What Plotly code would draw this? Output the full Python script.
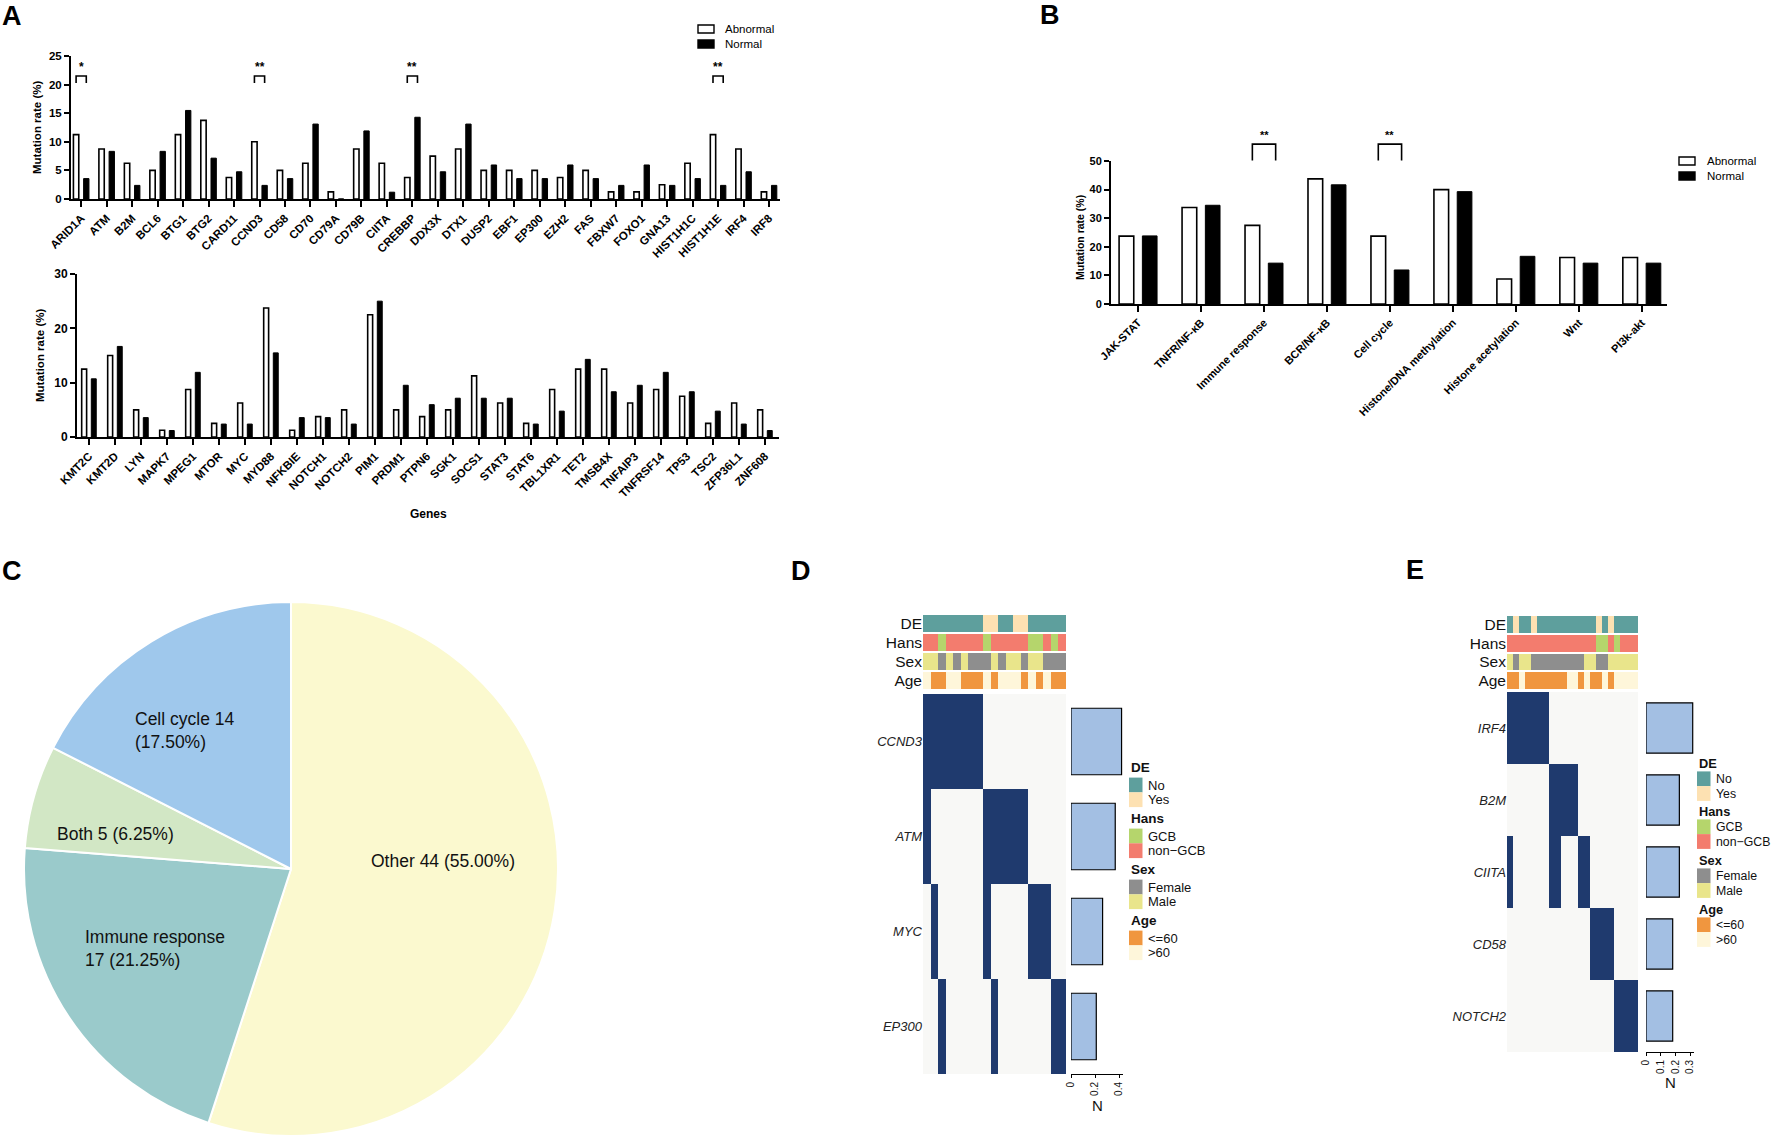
import plotly.graph_objects as go

W, H = 1772, 1136
FONT = "Liberation Sans, Arial, Helvetica, sans-serif"


def px_x(v):
    return v / W


def px_y(v):
    return 1 - v / H


# ---------------- Panel A (top) ----------------
genes_a1 = ["ARID1A", "ATM", "B2M", "BCL6", "BTG1", "BTG2", "CARD11", "CCND3", "CD58", "CD70",
            "CD79A", "CD79B", "CIITA", "CREBBP", "DDX3X", "DTX1", "DUSP2", "EBF1", "EP300", "EZH2",
            "FAS", "FBXW7", "FOXO1", "GNA13", "HIST1H1C", "HIST1H1E", "IRF4", "IRF8"]
abnormal_a1 = [11.25, 8.75, 6.25, 5.0, 11.25, 13.75, 3.75, 10.0, 5.0, 6.25, 1.25, 8.75, 6.25, 3.75,
               7.5, 8.75, 5.0, 5.0, 5.0, 3.75, 5.0, 1.25, 1.25, 2.5, 6.25, 11.25, 8.75, 1.25]
normal_a1 = [3.57, 8.33, 2.38, 8.33, 15.48, 7.14, 4.76, 2.38, 3.57, 13.1, 0, 11.9, 1.19, 14.29,
             4.76, 13.1, 5.95, 3.57, 3.57, 5.95, 3.57, 2.38, 5.95, 2.38, 3.57, 2.38, 4.76, 2.38]
sig_a1_genes = ["ARID1A", "CCND3", "CREBBP", "HIST1H1E"]
sig_a1_marks = ["*", "**", "**", "**"]

# ---------------- Panel A (bottom) ----------------
genes_a2 = ["KMT2C", "KMT2D", "LYN", "MAPK7", "MPEG1", "MTOR", "MYC", "MYD88", "NFKBIE", "NOTCH1",
            "NOTCH2", "PIM1", "PRDM1", "PTPN6", "SGK1", "SOCS1", "STAT3", "STAT6", "TBL1XR1", "TET2",
            "TMSB4X", "TNFAIP3", "TNFRSF14", "TP53", "TSC2", "ZFP36L1", "ZNF608"]
abnormal_a2 = [12.5, 15.0, 5.0, 1.25, 8.75, 2.5, 6.25, 23.75, 1.25, 3.75, 5.0, 22.5, 5.0, 3.75,
               5.0, 11.25, 6.25, 2.5, 8.75, 12.5, 12.5, 6.25, 8.75, 7.5, 2.5, 6.25, 5.0]
normal_a2 = [10.71, 16.67, 3.57, 1.19, 11.9, 2.38, 2.38, 15.48, 3.57, 3.57, 2.38, 25.0, 9.52, 5.95,
             7.14, 7.14, 7.14, 2.38, 4.76, 14.29, 8.33, 9.52, 11.9, 8.33, 4.76, 2.38, 1.19]

# ---------------- Panel B ----------------
pathways = ["JAK-STAT", "TNFR/NF-κB", "Immune response", "BCR/NF-κB", "Cell cycle",
            "Histone/DNA methylation", "Histone acetylation", "Wnt", "PI3k-akt"]
abnormal_b = [23.75, 33.75, 27.5, 43.75, 23.75, 40.0, 8.75, 16.25, 16.25]
normal_b = [23.81, 34.52, 14.29, 41.67, 11.9, 39.29, 16.67, 14.29, 14.29]
sig_b_paths = ["Immune response", "Cell cycle"]
sig_b_marks = ["**", "**"]

# ---------------- Panel C ----------------
pie_labels = ["Other", "Immune response", "Both", "Cell cycle"]
pie_values = [44, 17, 5, 14]
pie_colors = ["#FBF9CF", "#9ACACB", "#D2E7C5", "#9FC8EC"]

# ---------------- Panel D ----------------
d_genes = ["CCND3", "ATM", "MYC", "EP300"]
d_ccnd3 = [1, 1, 1, 1, 1, 1, 1, 1, 0, 0, 0, 0, 0, 0, 0, 0, 0, 0, 0]
d_atm = [1, 0, 0, 0, 0, 0, 0, 0, 1, 1, 1, 1, 1, 1, 0, 0, 0, 0, 0]
d_myc = [0, 1, 0, 0, 0, 0, 0, 0, 1, 0, 0, 0, 0, 0, 1, 1, 1, 0, 0]
d_ep300 = [0, 0, 1, 0, 0, 0, 0, 0, 0, 1, 0, 0, 0, 0, 0, 0, 0, 1, 1]
d_de = ["No", "No", "No", "No", "No", "No", "No", "No", "Yes", "Yes", "No", "No", "Yes", "Yes",
        "No", "No", "No", "No", "No"]
d_hans = ["non-GCB", "non-GCB", "GCB", "non-GCB", "non-GCB", "non-GCB", "non-GCB", "non-GCB", "GCB",
          "non-GCB", "non-GCB", "non-GCB", "non-GCB", "non-GCB", "GCB", "GCB", "non-GCB", "GCB", "non-GCB"]
d_sex = ["Male", "Male", "Female", "Male", "Female", "Male", "Female", "Female", "Female", "Male",
         "Female", "Male", "Male", "Female", "Male", "Male", "Female", "Female", "Female"]
d_age = [">60", "<=60", "<=60", ">60", ">60", "<=60", "<=60", "<=60", ">60", "<=60", ">60", ">60",
         ">60", "<=60", ">60", "<=60", ">60", "<=60", "<=60"]

# ---------------- Panel E ----------------
e_genes = ["IRF4", "B2M", "CIITA", "CD58", "NOTCH2"]
e_irf4 = [1, 1, 1, 1, 1, 1, 1, 0, 0, 0, 0, 0, 0, 0, 0, 0, 0, 0, 0, 0, 0, 0]
e_b2m = [0, 0, 0, 0, 0, 0, 0, 1, 1, 1, 1, 1, 0, 0, 0, 0, 0, 0, 0, 0, 0, 0]
e_ciita = [1, 0, 0, 0, 0, 0, 0, 1, 1, 0, 0, 0, 1, 1, 0, 0, 0, 0, 0, 0, 0, 0]
e_cd58 = [0, 0, 0, 0, 0, 0, 0, 0, 0, 0, 0, 0, 0, 0, 1, 1, 1, 1, 0, 0, 0, 0]
e_notch2 = [0, 0, 0, 0, 0, 0, 0, 0, 0, 0, 0, 0, 0, 0, 0, 0, 0, 0, 1, 1, 1, 1]
e_de = ["No", "Yes", "No", "No", "Yes", "No", "No", "No", "No", "No", "No", "No", "No", "No", "No",
        "Yes", "No", "Yes", "No", "No", "No", "No"]
e_hans = ["non-GCB", "non-GCB", "non-GCB", "non-GCB", "non-GCB", "non-GCB", "non-GCB", "non-GCB",
          "non-GCB", "non-GCB", "non-GCB", "non-GCB", "non-GCB", "non-GCB", "non-GCB", "GCB", "GCB",
          "non-GCB", "GCB", "non-GCB", "non-GCB", "non-GCB"]
e_sex = ["Male", "Female", "Male", "Male", "Female", "Female", "Female", "Female", "Female", "Female",
         "Female", "Female", "Female", "Male", "Male", "Female", "Female", "Male", "Male", "Male",
         "Male", "Male"]
e_age = ["<=60", "<=60", ">60", "<=60", "<=60", "<=60", "<=60", "<=60", "<=60", "<=60", ">60", ">60",
         "<=60", ">60", "<=60", "<=60", ">60", "<=60", ">60", ">60", ">60", ">60"]

ann_rows = ["DE", "Hans", "Sex", "Age"]
ann_keys = ["No", "Yes", "GCB", "non-GCB", "Female", "Male", "<=60", ">60"]
ann_colors = ["#5E9F9D", "#FDE1B2", "#B5D56C", "#F37C6E", "#8E8E8E", "#E9E58B", "#F0963F", "#FEF6DA"]
legend_groups = [("DE", ["No", "Yes"]), ("Hans", ["GCB", "non-GCB"]),
                 ("Sex", ["Female", "Male"]), ("Age", ["<=60", ">60"])]
MUT_COLOR = "#1F3A6E"
EMPTY_COLOR = "#F8F8F6"
NBAR_COLOR = "#A3BFE3"

fig = go.Figure()
shapes = []
annotations = []


def bar_axes(xdom, ydom, xr, yr, dtick, xname, yname, xfs, yfs):
    xa = dict(domain=xdom, anchor=yname, type="category", range=xr, showline=True, linecolor="black",
              linewidth=2, ticks="outside", ticklen=6, tickwidth=2, tickcolor="black", tickangle=-45,
              showgrid=False, zeroline=False, automargin=False,
              tickfont=dict(family=FONT, size=xfs, color="black", weight="bold"))
    ya = dict(domain=ydom, anchor=xname, range=yr, dtick=dtick, showline=True, linecolor="black",
              linewidth=2, ticks="outside", ticklen=5, tickwidth=2, tickcolor="black", showgrid=False,
              zeroline=False, automargin=False,
              tickfont=dict(family=FONT, size=yfs, color="black", weight="bold"))
    return xa, ya


def add_pair(cats, abn, nor, bw, off, xa, ya):
    fig.add_trace(go.Bar(x=cats, y=abn, width=bw, offset=-off - bw / 2, name="Abnormal",
                         marker=dict(color="white", line=dict(color="black", width=1.6)),
                         xaxis=xa, yaxis=ya, showlegend=False))
    fig.add_trace(go.Bar(x=cats, y=nor, width=bw, offset=off - bw / 2, name="Normal",
                         marker=dict(color="black", line=dict(color="black", width=1.0)),
                         xaxis=xa, yaxis=ya, showlegend=False))


def to_paper(v, dom, rng):
    return dom[0] + (v - rng[0]) / (rng[1] - rng[0]) * (dom[1] - dom[0])


def add_brackets(cats, sig, marks, off, xdom, xr, ydom, yr, y_leg, y_top, y_star, fs):
    for g, m in zip(sig, marks):
        i = cats.index(g)
        x0 = to_paper(i - off, xdom, xr)
        x1 = to_paper(i + off, xdom, xr)
        yl = to_paper(y_leg, ydom, yr)
        yt = to_paper(y_top, ydom, yr)
        shapes.append(dict(type="path", xref="paper", yref="paper",
                           path=f"M {x0},{yl} L {x0},{yt} L {x1},{yt} L {x1},{yl}",
                           line=dict(color="black", width=1.6)))
        annotations.append(dict(text=f"<b>{m}</b>", xref="paper", yref="paper",
                                x=(x0 + x1) / 2, y=to_paper(y_star, ydom, yr), showarrow=False,
                                xanchor="center", yanchor="middle",
                                font=dict(family=FONT, size=fs, color="black")))


# ----- A top -----
A1_X = [px_x(71), px_x(780)]
A1_Y = [px_y(199), px_y(56)]
A1_RX = [-0.4, 27.43]
A1_RY = [0, 25]
add_pair(genes_a1, abnormal_a1, normal_a1, 0.21, 0.2, "x", "y")
xa1, ya1 = bar_axes(A1_X, A1_Y, A1_RX, A1_RY, 5, "x", "y", 11.5, 11.5)
add_brackets(genes_a1, sig_a1_genes, sig_a1_marks, 0.2, A1_X, A1_RX, A1_Y, A1_RY, 20.3, 21.5, 23.1, 12)

# ----- A bottom -----
A2_X = [px_x(77), px_x(779)]
A2_Y = [px_y(437), px_y(274)]
A2_RX = [-0.46, 26.54]
A2_RY = [0, 30]
add_pair(genes_a2, abnormal_a2, normal_a2, 0.19, 0.185, "x2", "y2")
xa2, ya2 = bar_axes(A2_X, A2_Y, A2_RX, A2_RY, 10, "x2", "y2", 11.5, 12)

# ----- B -----
B_X = [px_x(1111), px_x(1667)]
B_Y = [px_y(304), px_y(161)]
B_RX = [-0.43, 8.4]
B_RY = [0, 50]
add_pair(pathways, abnormal_b, normal_b, 0.233, 0.185, "x3", "y3")
xa3, ya3 = bar_axes(B_X, B_Y, B_RX, B_RY, 10, "x3", "y3", 11, 11)
add_brackets(pathways, sig_b_paths, sig_b_marks, 0.185, B_X, B_RX, B_Y, B_RY, 50.2, 55.9, 59.2, 11)

# ----- C pie -----
fig.add_trace(go.Pie(values=pie_values, labels=pie_labels, sort=False, direction="clockwise",
                     rotation=0, marker=dict(colors=pie_colors, line=dict(color="white", width=2)),
                     textinfo="none", showlegend=False, automargin=False,
                     domain=dict(x=[px_x(24), px_x(558)], y=[0, px_y(602)])))
total = sum(pie_values)
pie_text = {
    "Other": f"Other {pie_values[0]} ({pie_values[0] / total * 100:.2f}%)",
    "Immune response": f"Immune response<br>{pie_values[1]} ({pie_values[1] / total * 100:.2f}%)",
    "Both": f"Both {pie_values[2]} ({pie_values[2] / total * 100:.2f}%)",
    "Cell cycle": f"Cell cycle {pie_values[3]}<br>({pie_values[3] / total * 100:.2f}%)",
}
pie_pos = {"Other": (369, 861), "Immune response": (83, 948), "Both": (55, 834), "Cell cycle": (133, 730)}
for lab in pie_labels:
    xx, yy = pie_pos[lab]
    annotations.append(dict(text=pie_text[lab], xref="paper", yref="paper", x=px_x(xx), y=px_y(yy),
                            xanchor="left", yanchor="middle", align="left", showarrow=False,
                            font=dict(family=FONT, size=17.5, color="#111111")))


# ----- D / E oncoprints -----
def disc_scale(colors):
    n = len(colors)
    sc = []
    for i, c in enumerate(colors):
        sc.append([i / n, c])
        sc.append([(i + 1) / n, c])
    return sc


def add_onco(genes, mat, anns, ax_ann, ax_mat, ax_bar, xdom, ann_y, mat_y, bar_x, bar_range,
             bar_ticks, layout):
    ncol = len(mat[0])
    codes = [[ann_keys.index(v) for v in row] for row in anns]
    fig.add_trace(go.Heatmap(z=codes, x=list(range(ncol)), y=list(range(len(ann_rows))),
                             colorscale=disc_scale(ann_colors), zmin=-0.5, zmax=len(ann_keys) - 0.5,
                             showscale=False, ygap=2, xaxis="x" + ax_ann, yaxis="y" + ax_ann,
                             hoverinfo="skip"))
    fig.add_trace(go.Heatmap(z=mat, x=list(range(ncol)), y=list(range(len(genes))),
                             colorscale=[[0, EMPTY_COLOR], [1, MUT_COLOR]], zmin=0, zmax=1,
                             showscale=False, xaxis="x" + ax_mat, yaxis="y" + ax_mat,
                             hoverinfo="skip"))
    nvals = [sum(r) / len(r) for r in mat]
    fig.add_trace(go.Bar(x=nvals, y=list(range(len(genes))), orientation="h", width=0.7,
                         marker=dict(color=NBAR_COLOR, line=dict(color="black", width=1.2)),
                         xaxis="x" + ax_bar, yaxis="y" + ax_bar, showlegend=False, hoverinfo="skip"))
    hidden_x = dict(range=[-0.5, ncol - 0.5], visible=False, domain=xdom, automargin=False)
    layout["xaxis" + ax_ann] = dict(hidden_x, anchor="y" + ax_ann)
    layout["xaxis" + ax_mat] = dict(hidden_x, anchor="y" + ax_mat)
    layout["yaxis" + ax_ann] = dict(domain=ann_y, anchor="x" + ax_ann, range=[len(ann_rows) - 0.5, -0.5],
                                    tickvals=list(range(len(ann_rows))), ticktext=ann_rows, ticks="",
                                    showgrid=False, zeroline=False, showline=False, automargin=False,
                                    tickfont=dict(family=FONT, size=15.5, color="#111111"))
    layout["yaxis" + ax_mat] = dict(domain=mat_y, anchor="x" + ax_mat, range=[len(genes) - 0.5, -0.5],
                                    tickvals=list(range(len(genes))),
                                    ticktext=[f"<i>{g}</i>" for g in genes], ticks="",
                                    showgrid=False, zeroline=False, showline=False, automargin=False,
                                    tickfont=dict(family=FONT, size=13, color="#222222"))
    layout["xaxis" + ax_bar] = dict(domain=bar_x, anchor="y" + ax_bar, range=bar_range,
                                    tickvals=bar_ticks, ticktext=[f"{t:g}" for t in bar_ticks],
                                    tickangle=-90, ticks="outside", ticklen=3, tickwidth=1,
                                    tickcolor="black", showline=True, linecolor="black", linewidth=1,
                                    showgrid=False, zeroline=False, automargin=False,
                                    tickfont=dict(family=FONT, size=10, color="#111111"))
    layout["yaxis" + ax_bar] = dict(domain=mat_y, anchor="x" + ax_bar, range=[len(genes) - 0.5, -0.5],
                                    visible=False, automargin=False)


def add_legend(x_box, x_text, y_heads, d1, d2, fs):
    for (head, items), yh in zip(legend_groups, y_heads):
        annotations.append(dict(text=f"<b>{head}</b>", xref="paper", yref="paper", x=px_x(x_box),
                                y=px_y(yh), xanchor="left", yanchor="middle", showarrow=False,
                                font=dict(family=FONT, size=fs + 0.5, color="#111111")))
        for item, dy in zip(items, [d1, d2]):
            yc = yh + dy
            col = ann_colors[ann_keys.index(item)]
            shapes.append(dict(type="rect", xref="paper", yref="paper", x0=px_x(x_box),
                               x1=px_x(x_box + 13.5), y0=px_y(yc + 7.4), y1=px_y(yc - 7.4),
                               fillcolor=col, line=dict(width=0)))
            label = item.replace("non-GCB", "non−GCB").replace("<", "&lt;").replace(">", "&gt;")
            annotations.append(dict(text=label, xref="paper", yref="paper", x=px_x(x_text),
                                    y=px_y(yc), xanchor="left", yanchor="middle", showarrow=False,
                                    font=dict(family=FONT, size=fs, color="#111111")))


layout = {}
add_onco(d_genes, [d_ccnd3, d_atm, d_myc, d_ep300], [d_de, d_hans, d_sex, d_age],
         "4", "5", "6", [px_x(923), px_x(1066)], [px_y(690), px_y(614)], [px_y(1074), px_y(694)],
         [px_x(1071), px_x(1123)], [0, 0.433], [0, 0.2, 0.4], layout)
add_onco(e_genes, [e_irf4, e_b2m, e_ciita, e_cd58, e_notch2], [e_de, e_hans, e_sex, e_age],
         "7", "8", "9", [px_x(1507), px_x(1638)], [px_y(690), px_y(615)], [px_y(1052), px_y(692)],
         [px_x(1646), px_x(1694)], [0, 0.327], [0, 0.1, 0.2, 0.3], layout)
add_legend(1129, 1146, [767, 818, 869, 920], 18, 32.7, 13)
add_legend(1697, 1714, [763, 811, 860, 909], 15.8, 30.5, 12.3)

# N axis titles
for (xx, yy) in [(1097, 1105), (1670, 1082)]:
    annotations.append(dict(text="N", xref="paper", yref="paper", x=px_x(xx), y=px_y(yy),
                            showarrow=False, xanchor="center", yanchor="middle",
                            font=dict(family=FONT, size=15, color="#111111")))

# Bar chart legends (A and B)
for (bx, tx, ys) in [(698, 723, [29, 44]), (1679, 1705, [161, 176])]:
    for lab, yy, fill in zip(["Abnormal", "Normal"], ys, ["white", "black"]):
        shapes.append(dict(type="rect", xref="paper", yref="paper", x0=px_x(bx), x1=px_x(bx + 16),
                           y0=px_y(yy + 4), y1=px_y(yy - 4), fillcolor=fill,
                           line=dict(color="black", width=1.4)))
        annotations.append(dict(text=lab, xref="paper", yref="paper", x=px_x(tx), y=px_y(yy),
                                xanchor="left", yanchor="middle", showarrow=False,
                                font=dict(family=FONT, size=11.5, color="black")))

# Axis titles
for (xx, yy, fs) in [(37, 128, 11.5), (40, 356, 11.5), (1080, 238, 10.5)]:
    annotations.append(dict(text="<b>Mutation rate (%)</b>", xref="paper", yref="paper", x=px_x(xx),
                            y=px_y(yy), textangle=-90, showarrow=False, xanchor="center",
                            yanchor="middle", font=dict(family=FONT, size=fs, color="black")))
annotations.append(dict(text="<b>Genes</b>", xref="paper", yref="paper", x=px_x(428), y=px_y(514),
                        showarrow=False, xanchor="center", yanchor="middle",
                        font=dict(family=FONT, size=12, color="black")))

# Panel letters
for (t, xx, yy) in [("A", 12, 16), ("B", 1050, 15), ("C", 12, 571), ("D", 801, 571), ("E", 1415, 570)]:
    annotations.append(dict(text=f"<b>{t}</b>", xref="paper", yref="paper", x=px_x(xx), y=px_y(yy),
                            showarrow=False, xanchor="center", yanchor="middle",
                            font=dict(family=FONT, size=27, color="black")))

fig.update_layout(
    width=W, height=H, margin=dict(l=0, r=0, t=0, b=0, pad=0, autoexpand=False),
    paper_bgcolor="white", plot_bgcolor="white", showlegend=False, barmode="overlay",
    font=dict(family=FONT, color="black"),
    xaxis=xa1, yaxis=ya1, xaxis2=xa2, yaxis2=ya2, xaxis3=xa3, yaxis3=ya3,
    shapes=shapes, annotations=annotations,
    **layout,
)

fig.write_html("out.html", config={"displayModeBar": False},
               post_script="document.body.style.margin='0';")
